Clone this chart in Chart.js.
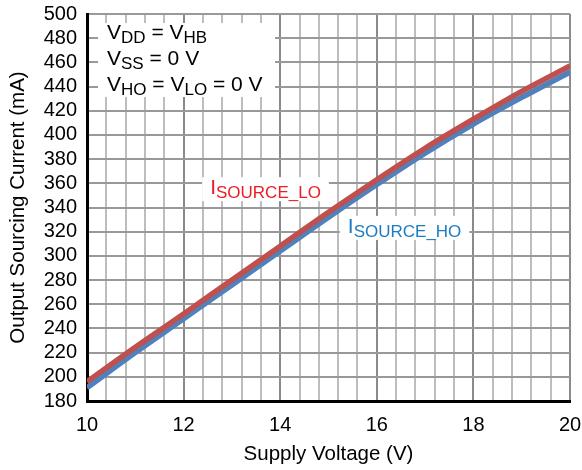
<!DOCTYPE html>
<html>
<head>
<meta charset="utf-8">
<script src="https://cdn.jsdelivr.net/npm/chart.js@4"></script>
<style>
  html, body { margin: 0; padding: 0; background: #fff; }
  canvas { display: block; }
</style>
</head>
<body>
<canvas id="grafico" width="582" height="470"></canvas>
<script>
// datos
const voltaje = [10, 11, 12, 13, 14, 15, 16, 17, 18, 19, 20];
const sourceLo = [196, 224.5, 252, 280, 308, 336, 363, 389, 413, 436, 457];
const sourceHo = [191, 220, 248, 276, 304, 332, 359, 385, 409, 431, 452];
const xTickLabels = [10, 12, 14, 16, 18, 20];
const xMinorStep = 0.4;
const yTicks = [180, 200, 220, 240, 260, 280, 300, 320, 340, 360, 380, 400, 420, 440, 460, 480, 500];

const fuente = '"Liberation Sans", Arial, Helvetica, sans-serif';

// dibuja texto con subindices, devuelve el ancho
function textoSub(ctx, x, y, partes, color, medir) {
    let cx = x;
    partes.forEach(p => {
        const sub = p[1];
        ctx.font = (sub ? '17px ' : '21px ') + fuente;
        if (!medir) {
            ctx.fillStyle = color;
            ctx.fillText(p[0], cx, sub ? y + 4 : y);
        }
        cx += ctx.measureText(p[0]).width;
    });
    return cx - x;
}

const notas = {
    id: 'notas',
    afterDatasetsDraw(chart) {
        const { ctx, chartArea, scales } = chart;
        ctx.save();
        ctx.textBaseline = 'alphabetic';
        ctx.textAlign = 'left';

        // cuadro de condiciones
        ctx.fillStyle = '#fff';
        ctx.fillRect(chartArea.left + 11, chartArea.top + 9, 177, 74);
        const tx = chartArea.left + 20;
        textoSub(ctx, tx, chartArea.top + 25, [['V', 0], ['DD', 1], [' = V', 0], ['HB', 1]], '#000');
        textoSub(ctx, tx, chartArea.top + 51, [['V', 0], ['SS', 1], [' = 0 V', 0]], '#000');
        textoSub(ctx, tx, chartArea.top + 77, [['V', 0], ['HO', 1], [' = V', 0], ['LO', 1], [' = 0 V', 0]], '#000');

        // etiquetas de las curvas
        const etiquetas = [
            { at: [12.55, 351], partes: [['I', 0], ['SOURCE_LO', 1]], color: '#ec1c24' },
            { at: [15.40, 319], partes: [['I', 0], ['SOURCE_HO', 1]], color: '#1b7cc2' }
        ];
        etiquetas.forEach(e => {
            const px = scales.x.getPixelForValue(e.at[0]);
            const py = scales.y.getPixelForValue(e.at[1]);
            const ancho = textoSub(ctx, px, py, e.partes, e.color, true);
            ctx.fillStyle = '#fff';
            ctx.fillRect(px - 8, py - 17, ancho + 16, 24);
            textoSub(ctx, px, py, e.partes, e.color);
        });
        ctx.restore();
    }
};

const ctx = document.getElementById('grafico').getContext('2d');
new Chart(ctx, {
    type: 'line',
    data: {
        labels: voltaje,
        datasets: [
            {
                label: 'ISOURCE_LO',
                data: voltaje.map((v, i) => ({ x: v, y: sourceLo[i] })),
                borderColor: '#c0504d',
                borderWidth: 5.5,
                pointRadius: 0,
                cubicInterpolationMode: 'monotone',
                fill: false
            },
            {
                label: 'ISOURCE_HO',
                data: voltaje.map((v, i) => ({ x: v, y: sourceHo[i] })),
                borderColor: '#4f81bd',
                borderWidth: 5.5,
                pointRadius: 0,
                cubicInterpolationMode: 'monotone',
                fill: false
            }
        ]
    },
    options: {
        responsive: false,
        animation: false,
        layout: { padding: { top: 14, right: 12, left: 0, bottom: 0 } },
        plugins: {
            legend: { display: false },
            tooltip: { enabled: false }
        },
        scales: {
            x: {
                type: 'linear',
                min: 10,
                max: 20,
                afterBuildTicks: scale => {
                    const t = [];
                    for (let i = 0; i <= 25; i++) {
                        t.push({ value: Math.round((10 + i * xMinorStep) * 10) / 10 });
                    }
                    scale.ticks = t;
                },
                afterFit: scale => {
                    scale.height = 69;
                    scale.paddingLeft = 0;
                    scale.paddingRight = 0;
                },
                ticks: {
                    autoSkip: false,
                    maxRotation: 0,
                    padding: 12,
                    color: '#000',
                    font: { family: fuente, size: 20 },
                    callback: v => xTickLabels.includes(v) ? String(v) : ''
                },
                grid: {
                    drawTicks: false,
                    lineWidth: 2,
                    color: c => (c.tick && xTickLabels.includes(c.tick.value)) ? '#8a8a8a' : '#bdbdbd'
                },
                border: { color: '#000', width: 3 },
                title: {
                    display: true,
                    text: 'Supply Voltage (V)',
                    color: '#000',
                    font: { family: fuente, size: 20.5 },
                    padding: { top: 0, bottom: 3 }
                }
            },
            y: {
                min: 180,
                max: 500,
                afterBuildTicks: scale => { scale.ticks = yTicks.map(v => ({ value: v })); },
                afterFit: scale => {
                    scale.width = 87;
                    scale.paddingTop = 0;
                    scale.paddingBottom = 0;
                },
                ticks: {
                    autoSkip: false,
                    padding: 10,
                    color: '#000',
                    font: { family: fuente, size: 20 }
                },
                grid: {
                    drawTicks: false,
                    lineWidth: 2,
                    color: '#999'
                },
                border: { color: '#000', width: 3 },
                title: {
                    display: true,
                    text: 'Output Sourcing Current (mA)',
                    color: '#000',
                    font: { family: fuente, size: 20.5 },
                    padding: { top: 6, bottom: 0 }
                }
            }
        }
    },
    plugins: [notas]
});
</script>
</body>
</html>
